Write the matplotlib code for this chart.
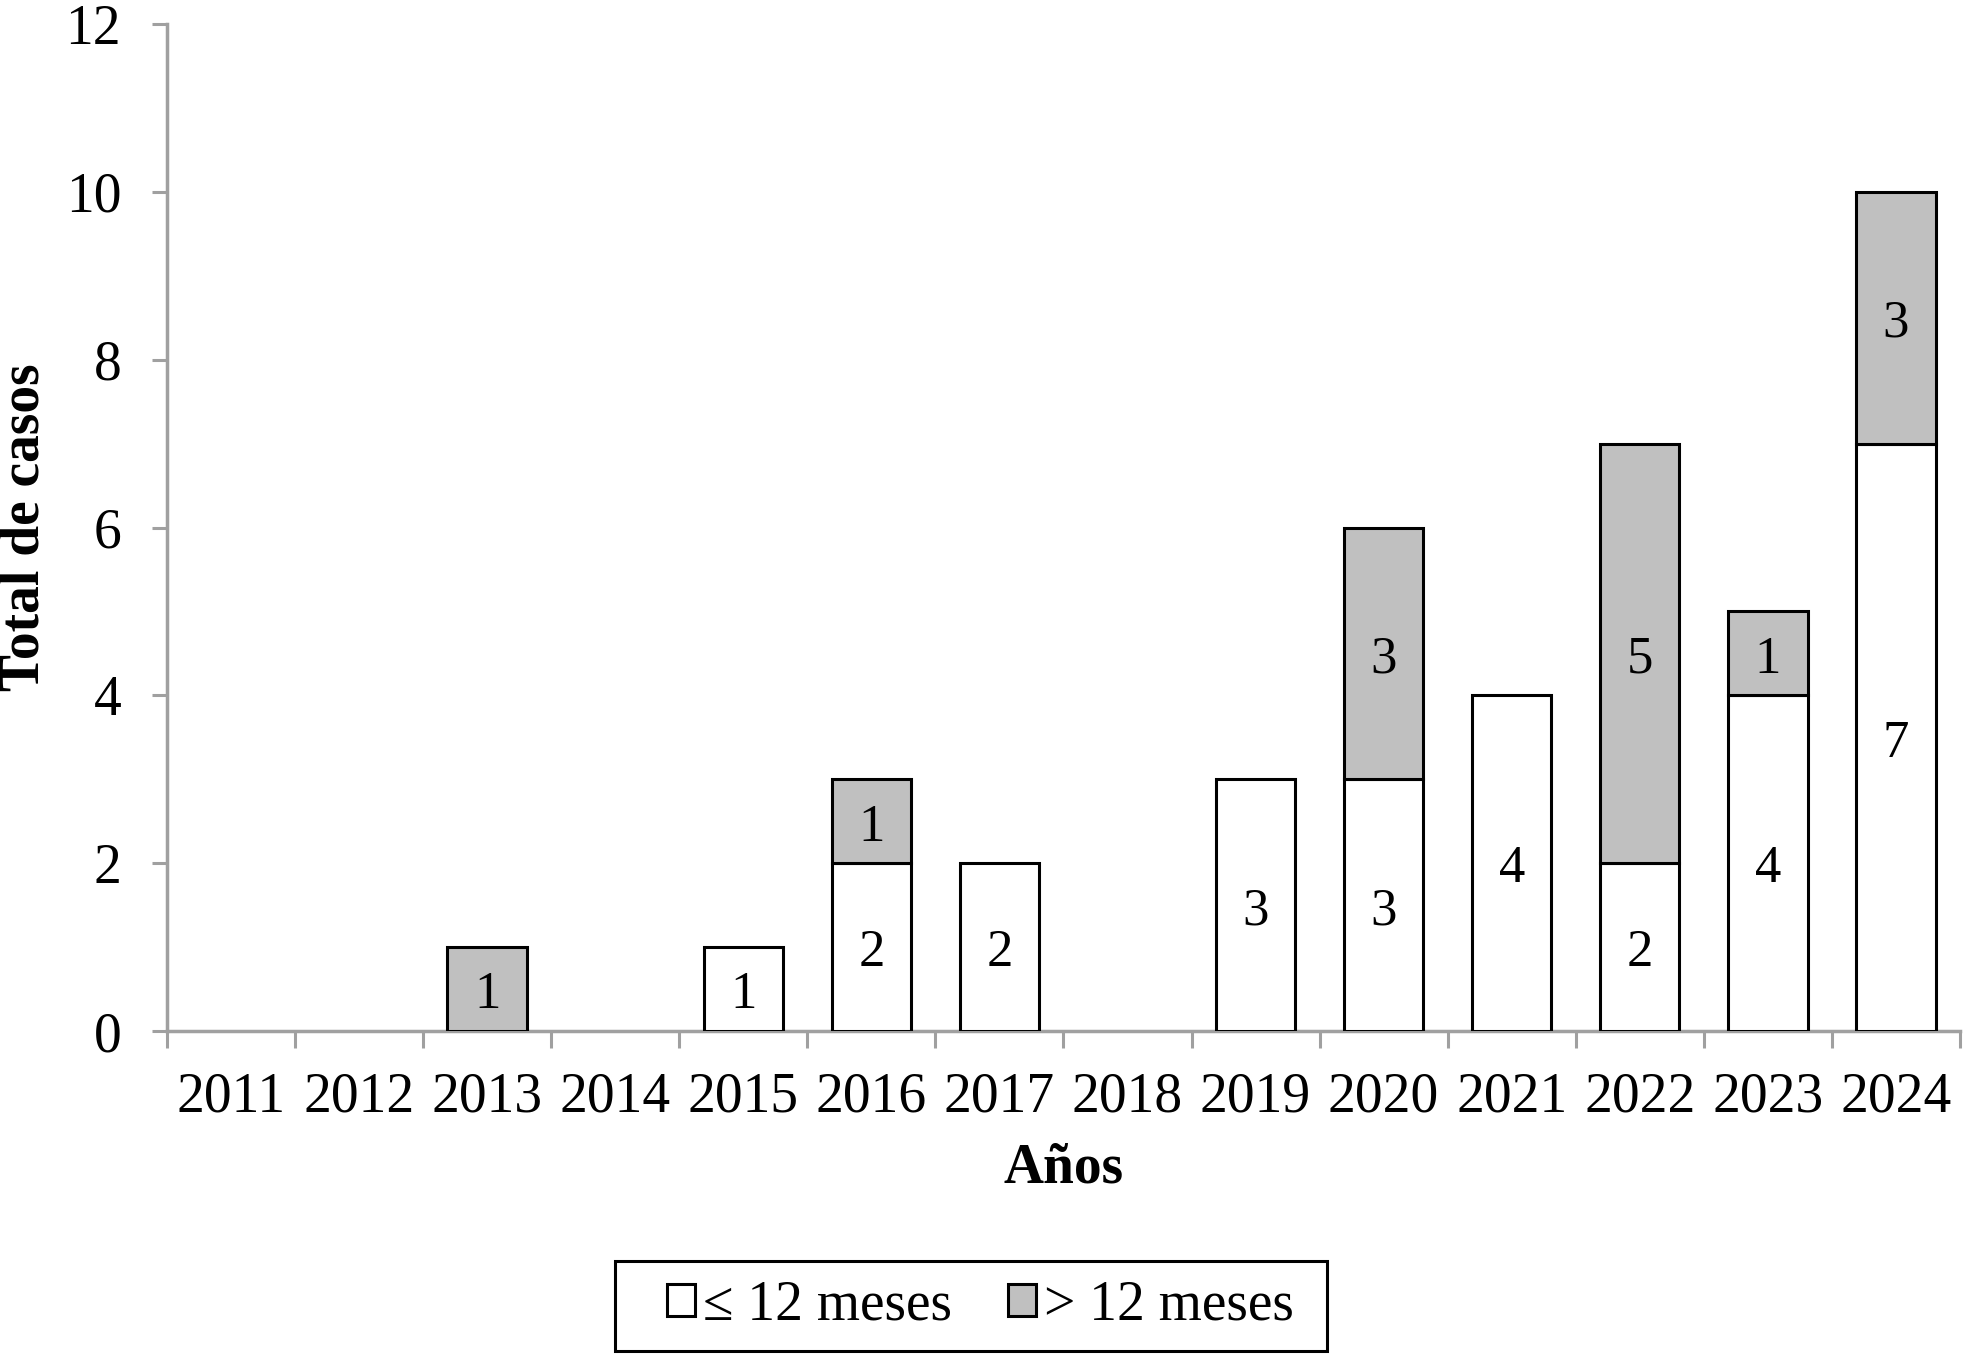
import matplotlib
matplotlib.use("Agg")
import matplotlib.pyplot as plt
from matplotlib.patches import Rectangle, Patch
import numpy as np

years = ["2011", "2012", "2013", "2014", "2015", "2016", "2017",
         "2018", "2019", "2020", "2021", "2022", "2023", "2024"]
le12 = [0, 0, 0, 0, 1, 2, 2, 0, 3, 3, 4, 2, 4, 7]
gt12 = [0, 0, 1, 0, 0, 1, 0, 0, 0, 3, 0, 5, 1, 3]
yticks = [0, 2, 4, 6, 8, 10, 12]
series_names = ["≤ 12 meses", "> 12 meses"]

plt.rcParams['font.family'] = ['Liberation Serif', 'DejaVu Serif']

fig = plt.figure(figsize=(19.67, 13.57), dpi=100)
ax = fig.add_axes([0.0849, 0.2402, 0.9115, 0.7421])

x = np.arange(len(years))
w = 0.62
gray = "#c0c0c0"
axc = "#a0a0a0"
b1 = ax.bar(x, le12, w, color="white", edgecolor="black", linewidth=2.2, zorder=3)
b2 = ax.bar(x, gt12, w, bottom=le12, color=gray, edgecolor="black", linewidth=2.2,
            zorder=3)
for cont in (b1, b2):
    for p in cont.patches:
        if p.get_height() == 0:
            p.set_visible(False)

for i in range(len(years)):
    if le12[i] > 0:
        ax.annotate(str(le12[i]), (x[i], le12[i] / 2), xytext=(0, -4.5),
                    textcoords="offset points", ha="center", va="center",
                    fontsize=38, zorder=4)
    if gt12[i] > 0:
        ax.annotate(str(gt12[i]), (x[i], le12[i] + gt12[i] / 2), xytext=(0, -4.5),
                    textcoords="offset points", ha="center", va="center",
                    fontsize=38, zorder=4)

ax.set_xlim(-0.5, len(years) - 0.5)
ax.set_ylim(0, 12)
ax.set_yticks(yticks)
ax.set_yticklabels([str(v) for v in yticks], fontsize=40)
ax.set_xticks(np.arange(-0.5, len(years), 1.0))
ax.set_xticklabels([])
ax.set_xticks(x, minor=True)
ax.set_xticklabels(years, minor=True, fontsize=40)
ax.tick_params(axis="x", which="major", length=12, width=2.2, color=axc, direction="out")
ax.tick_params(axis="x", which="minor", length=0, pad=29)
ax.tick_params(axis="y", length=11, width=2.2, color=axc, direction="out", pad=22)

for s in ["top", "right"]:
    ax.spines[s].set_visible(False)
for s in ["left", "bottom"]:
    ax.spines[s].set_color(axc)
    ax.spines[s].set_linewidth(2.5)

ax.set_xlabel("Años", fontsize=40, fontweight="bold", labelpad=14)
ax.set_ylabel("Total de casos", fontsize=40, fontweight="bold")
ax.yaxis.label.set_va("center")
ax.yaxis.set_label_coords(-0.0795, 0.5)

# legend frame drawn separately (wider horizontal padding as in reference)
W, H = 1967.0, 1357.0
fig.patches.append(Rectangle((615 / W, 1 - 1351 / H), (1327 - 615) / W, 90 / H,
                             transform=fig.transFigure, fill=False,
                             edgecolor="black", linewidth=2.2))
handles = [Patch(facecolor="white", edgecolor="black", linewidth=2.2, label=series_names[0]),
           Patch(facecolor=gray, edgecolor="black", linewidth=2.2, label=series_names[1])]
leg = fig.legend(handles=handles, loc="center", bbox_to_anchor=(0.4985, 0.0376),
                 ncol=2, fontsize=40, frameon=False,
                 handlelength=0.5, handleheight=0.5, handletextpad=0.15,
                 columnspacing=1.0, borderpad=0.2, borderaxespad=0)

fig.savefig("out.png", dpi=100)
